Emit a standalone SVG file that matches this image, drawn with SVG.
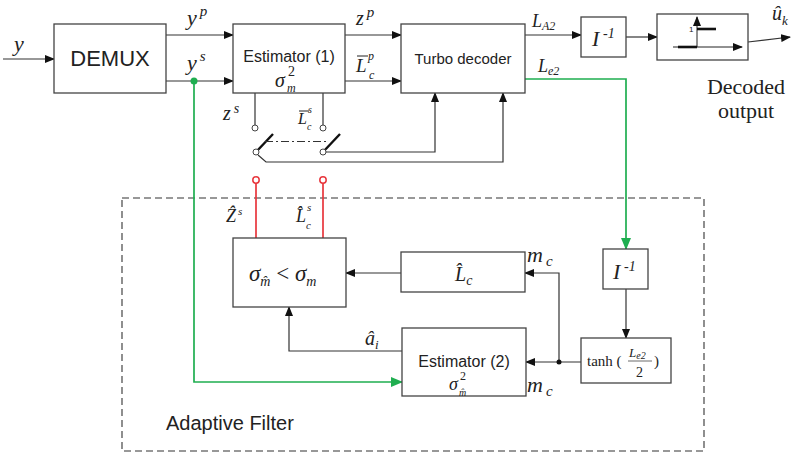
<svg xmlns="http://www.w3.org/2000/svg" width="792" height="462" viewBox="0 0 792 462">
<defs>
<marker id="ah" markerWidth="10" markerHeight="8" refX="9" refY="4" orient="auto" markerUnits="userSpaceOnUse">
<path d="M0,0 L10,4 L0,8 Z" fill="#111"/>
</marker>
<marker id="ahg" markerWidth="12" markerHeight="10" refX="11" refY="5" orient="auto" markerUnits="userSpaceOnUse">
<path d="M0,0 L12,5 L0,10 Z" fill="#1fae50"/>
</marker>
<style>
.box{fill:#fff;stroke:#444;stroke-width:1.3}
.ln{fill:none;stroke:#333;stroke-width:1.2}
.gr{fill:none;stroke:#1fae50;stroke-width:1.7}
.rd{fill:none;stroke:#e8363c;stroke-width:1.7}
.sans{font-family:"Liberation Sans",Arial,sans-serif;fill:#222}
.m{font-family:"Liberation Serif","Times New Roman",serif;font-style:italic;fill:#222}
.serif{font-family:"Liberation Serif","Times New Roman",serif;fill:#222}
.dash{fill:none;stroke:#333;stroke-width:1.1;stroke-dasharray:7,4}
</style>
</defs>

<g id="adaptive-filter-frame">
<rect class="dash" x="122" y="198" width="582" height="253"/>
<text class="sans" x="166" y="430" font-size="20">Adaptive Filter</text>
</g>

<g id="connectors">
<line class="ln" x1="3" y1="59" x2="54" y2="59" marker-end="url(#ah)"/>
<line class="ln" x1="166" y1="35" x2="233" y2="35" marker-end="url(#ah)"/>
<line class="ln" x1="166" y1="81" x2="233" y2="81" marker-end="url(#ah)"/>
<line class="ln" x1="345" y1="35" x2="401" y2="35" marker-end="url(#ah)"/>
<line class="ln" x1="345" y1="81" x2="401" y2="81" marker-end="url(#ah)"/>
<line class="ln" x1="525" y1="35" x2="581" y2="35" marker-end="url(#ah)"/>
<line class="ln" x1="626" y1="37" x2="657" y2="37" marker-end="url(#ah)"/>
<line class="ln" x1="748" y1="42" x2="790" y2="37" marker-end="url(#ah)"/>
<!-- switch -->
<line class="ln" x1="255" y1="93" x2="255" y2="125"/>
<line class="ln" x1="323" y1="93" x2="323" y2="125"/>
<circle cx="255" cy="128" r="3" fill="#fff" stroke="#444" stroke-width="1"/>
<circle cx="323" cy="128" r="3" fill="#fff" stroke="#444" stroke-width="1"/>
<line x1="256" y1="152" x2="273" y2="134" stroke="#111" stroke-width="2.4"/>
<line x1="323" y1="152" x2="340" y2="134" stroke="#111" stroke-width="2.4"/>
<line x1="265" y1="141.5" x2="328" y2="141.5" stroke="#333" stroke-width="1" stroke-dasharray="8,3,2,3"/>
<circle cx="256" cy="152" r="3" fill="#fff" stroke="#444" stroke-width="1"/>
<circle cx="323" cy="152" r="3" fill="#fff" stroke="#444" stroke-width="1"/>
<polyline class="ln" points="326,152 435,152 435,93" marker-end="url(#ah)"/>
<polyline class="ln" points="258,155 266,162 503,162 503,93" marker-end="url(#ah)"/>
<!-- green paths -->
<polyline class="gr" points="525,79 626,79 626,249" marker-end="url(#ahg)"/>
<polyline class="gr" points="194,81 194,382 402,382" marker-end="url(#ahg)"/>
<circle cx="194" cy="81" r="3.5" fill="#1fae50"/>
<!-- red -->
<line class="rd" x1="256" y1="238" x2="256" y2="183"/>
<line class="rd" x1="323" y1="238" x2="323" y2="183"/>
<circle cx="256" cy="180" r="3.2" fill="#fff" stroke="#e8363c" stroke-width="1.5"/>
<circle cx="323" cy="180" r="3.2" fill="#fff" stroke="#e8363c" stroke-width="1.5"/>
<!-- lower -->
<line class="ln" x1="626" y1="289" x2="626" y2="338" marker-end="url(#ah)"/>
<line class="ln" x1="581" y1="362" x2="526" y2="362" marker-end="url(#ah)"/>
<polyline class="ln" points="559,362 559,273 525,273" marker-end="url(#ah)"/>
<circle cx="559" cy="362" r="2.5" fill="#111"/>
<line class="ln" x1="401" y1="273" x2="346" y2="273" marker-end="url(#ah)"/>
<polyline class="ln" points="402,351 289,351 289,307" marker-end="url(#ah)"/>
</g>

<g id="demux">
<rect class="box" x="54" y="24" width="112" height="69"/>
<text class="sans" x="110" y="66" font-size="22" text-anchor="middle">DEMUX</text>
</g>

<g id="estimator1">
<rect class="box" x="233" y="24" width="112" height="69"/>
<text class="sans" x="289" y="62" font-size="16" text-anchor="middle">Estimator (1)</text>
<text class="m" x="275" y="87" font-size="20">σ</text>
<text class="serif" x="288" y="76" font-size="14">2</text>
<text class="m" x="287" y="92" font-size="12">m</text>
</g>

<g id="turbo-decoder">
<rect class="box" x="401" y="24" width="124" height="69"/>
<text class="sans" x="463" y="64" font-size="15" text-anchor="middle">Turbo decoder</text>
</g>

<g id="inv-interleaver-top">
<rect class="box" x="581" y="17" width="45" height="40"/>
<text class="m" x="592" y="46" font-size="22">I</text>
<text class="m" x="603" y="38" font-size="14">-1</text>
</g>

<g id="hard-limiter">
<rect class="box" x="657" y="14" width="91" height="46"/>
<line x1="673" y1="47" x2="742" y2="47" stroke="#222" stroke-width="1" marker-end="url(#ah)"/>
<line x1="697" y1="47" x2="697" y2="17" stroke="#222" stroke-width="1" marker-end="url(#ah)"/>
<line x1="678" y1="47" x2="697" y2="47" stroke="#111" stroke-width="2.6"/>
<line x1="697" y1="29" x2="716" y2="29" stroke="#111" stroke-width="2.6"/>
<text class="sans" x="689" y="32" font-size="8">1</text>
</g>

<g id="decoded-output">
<text class="m" x="772" y="20" font-size="20">û<tspan font-size="13" dy="5">k</tspan></text>
<text class="serif" x="746" y="94" font-size="22" text-anchor="middle">Decoded</text>
<text class="serif" x="746" y="118" font-size="22" text-anchor="middle">output</text>
</g>

<g id="labels-top">
<text class="m" x="14" y="51" font-size="22">y</text>
<text class="m" x="187" y="25" font-size="22">y<tspan font-size="15" dx="3" dy="-9">p</tspan></text>
<text class="m" x="187" y="70" font-size="22">y<tspan font-size="15" dx="3" dy="-9">s</tspan></text>
<text class="m" x="356" y="25" font-size="20">z<tspan font-size="15" dx="3" dy="-8">p</tspan></text>
<text class="m" x="356" y="72" font-size="19">L</text>
<text class="m" x="368" y="60" font-size="12">p</text>
<text class="m" x="369" y="79" font-size="12">c</text>
<line x1="357" y1="56" x2="368" y2="56" stroke="#222" stroke-width="1"/>
<text class="m" x="223" y="120" font-size="20">z<tspan font-size="14" dx="3" dy="-7">s</tspan></text>
<text class="m" x="298" y="124" font-size="16">L</text>
<text class="m" x="308" y="113" font-size="10">s</text>
<text class="m" x="307" y="130" font-size="10">c</text>
<line x1="299" y1="111" x2="309" y2="111" stroke="#222" stroke-width="1"/>
<text class="m" x="532" y="27" font-size="18">L<tspan font-size="12" dy="3">A2</tspan></text>
<text class="m" x="538" y="72" font-size="18">L<tspan font-size="12" dy="3">e2</tspan></text>
</g>

<g id="compare">
<rect class="box" x="233" y="238" width="113" height="69"/>
<text class="m" x="249" y="281" font-size="23">σ<tspan font-size="14" dy="5">m̂</tspan><tspan font-style="normal" dy="-5"> &lt; </tspan>σ<tspan font-size="14" dy="5">m</tspan></text>
<text class="m" x="226" y="222" font-size="18">Ẑ<tspan font-size="11" dx="2" dy="-7">s</tspan></text>
<text class="m" x="296" y="222" font-size="18">L̂</text>
<text class="m" x="307" y="211" font-size="11">s</text>
<text class="m" x="306" y="229" font-size="11">c</text>
</g>

<g id="lc-hat">
<rect class="box" x="401" y="252" width="124" height="40"/>
<text class="m" x="455" y="281" font-size="20">L̂<tspan font-size="14" dy="4">c</tspan></text>
</g>

<g id="estimator2">
<rect class="box" x="402" y="328" width="124" height="68"/>
<text class="sans" x="464" y="367" font-size="16" text-anchor="middle">Estimator (2)</text>
<text class="m" x="449" y="390" font-size="18">σ</text>
<text class="serif" x="460" y="380" font-size="12">2</text>
<text class="m" x="459" y="396" font-size="10">m̂</text>
<text class="m" x="365" y="345" font-size="20">â<tspan font-size="13" dy="4">i</tspan></text>
</g>

<g id="inv-interleaver-bottom">
<rect class="box" x="603" y="249" width="45" height="40"/>
<text class="m" x="613" y="279" font-size="22">I</text>
<text class="m" x="624" y="271" font-size="14">-1</text>
</g>

<g id="tanh">
<rect class="box" x="581" y="338" width="90" height="45"/>
<text class="serif" x="587" y="366" font-size="15" fill="#444">tanh (</text>
<text class="m" x="629" y="357" font-size="13">L<tspan font-size="10" dy="2">e2</tspan></text>
<line x1="628" y1="361" x2="652" y2="361" stroke="#444" stroke-width="0.8"/>
<text class="serif" x="636" y="377" font-size="14" fill="#444">2</text>
<text class="serif" x="654" y="366" font-size="15" fill="#444">)</text>
</g>

<g id="mc-labels">
<text class="m" x="527" y="262" font-size="22">m<tspan font-size="15" dx="3" dy="4">c</tspan></text>
<text class="m" x="527" y="392" font-size="22">m<tspan font-size="15" dx="3" dy="4">c</tspan></text>
</g>
</svg>
